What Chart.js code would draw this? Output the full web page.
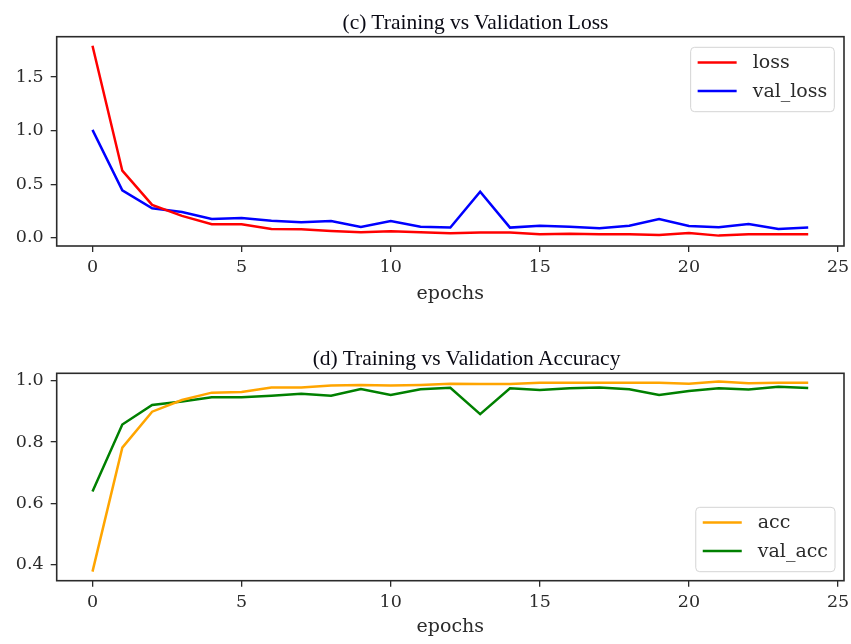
<!DOCTYPE html>
<html><head><meta charset="utf-8">
<script src="https://cdn.jsdelivr.net/npm/chart.js@4.4.0/dist/chart.umd.min.js"></script>
<style>
html,body{margin:0;padding:0;background:#fff;}
#wrap{position:relative;width:851px;height:644px;overflow:hidden;background:#fff;}
.c{position:absolute;left:0;width:851px;height:322px;}
.t{position:absolute;font-family:"Liberation Serif","Times New Roman",serif;font-size:21.5px;color:#0a0a14;white-space:nowrap;line-height:1;}
</style></head><body>
<div id="wrap">
<div class="c" style="top:0"><canvas id="c1" width="851" height="322"></canvas></div>
<div class="c" style="top:322px"><canvas id="c2" width="851" height="322"></canvas></div>
<div class="t" style="left:342.5px;top:12px">(c) Training vs Validation Loss</div>
<div class="t" style="left:312.7px;top:348px">(d) Training vs Validation Accuracy</div>
</div>
<script>
const epochs = [0,1,2,3,4,5,6,7,8,9,10,11,12,13,14,15,16,17,18,19,20,21,22,23,24];
const loss = [1.794,0.626,0.306,0.203,0.125,0.125,0.081,0.078,0.063,0.050,0.060,0.050,0.041,0.047,0.047,0.031,0.037,0.031,0.031,0.025,0.044,0.019,0.031,0.031,0.031];
const valLoss = [1.007,0.443,0.275,0.240,0.175,0.184,0.159,0.144,0.156,0.100,0.156,0.103,0.094,0.430,0.094,0.112,0.103,0.087,0.112,0.175,0.109,0.097,0.128,0.081,0.094];
const acc = [0.378,0.782,0.899,0.937,0.961,0.963,0.978,0.978,0.984,0.986,0.984,0.986,0.990,0.989,0.989,0.993,0.993,0.993,0.993,0.993,0.990,0.997,0.992,0.993,0.993];
const valAcc = [0.639,0.857,0.921,0.932,0.946,0.946,0.951,0.957,0.951,0.973,0.953,0.972,0.977,0.891,0.975,0.970,0.975,0.978,0.972,0.953,0.966,0.975,0.971,0.980,0.976];
const epochTicks = [0,5,10,15,20,25];
const lossTicks = [0.0,0.5,1.0,1.5];
const accTicks = [0.4,0.6,0.8,1.0];

const FONT = '"DejaVu Serif", serif';
const INK = '#2b2b2b';

const framePlugin = {
  id: 'frame',
  afterDraw(chart) {
    const ctx = chart.ctx, a = chart.chartArea;
    ctx.save();
    ctx.strokeStyle = INK; ctx.lineWidth = 1.6;
    ctx.strokeRect(a.left, a.top, a.right - a.left, a.bottom - a.top);
    ctx.restore();
  }
};

const boxLegend = {
  id: 'boxLegend',
  afterDraw(chart, args, opts) {
    const ctx = chart.ctx, a = chart.chartArea;
    const ds = chart.data.datasets;
    ctx.save();
    ctx.font = '19px ' + FONT;
    const tw = Math.max(...ds.map(d => ctx.measureText(d.label).width));
    const w = 7 + 39 + 16 + tw + 7;
    const h = 64.4;
    const x = a.right - opts.right - w;
    const y = opts.loc === 'top' ? a.top + opts.top : a.bottom - opts.bottom - h;
    const r = 4;
    ctx.beginPath();
    ctx.moveTo(x + r, y);
    ctx.lineTo(x + w - r, y); ctx.arcTo(x + w, y, x + w, y + r, r);
    ctx.lineTo(x + w, y + h - r); ctx.arcTo(x + w, y + h, x + w - r, y + h, r);
    ctx.lineTo(x + r, y + h); ctx.arcTo(x, y + h, x, y + h - r, r);
    ctx.lineTo(x, y + r); ctx.arcTo(x, y, x + r, y, r);
    ctx.closePath();
    ctx.fillStyle = 'rgba(255,255,255,0.85)'; ctx.fill();
    ctx.strokeStyle = '#d4d4d4'; ctx.lineWidth = 1; ctx.stroke();
    ds.forEach((d, i) => {
      const cy = y + 15.2 + i * 28.5;
      ctx.strokeStyle = d.borderColor; ctx.lineWidth = 2.5;
      ctx.beginPath(); ctx.moveTo(x + 7, cy); ctx.lineTo(x + 46, cy); ctx.stroke();
      ctx.fillStyle = INK; ctx.textBaseline = 'middle'; ctx.textAlign = 'left';
      ctx.fillText(d.label, x + 62, cy + 1);
    });
    ctx.restore();
  }
};

function pts(ys) { return epochs.map((e, i) => ({x: e, y: ys[i]})); }

function makeChart(id, sets, yMin, yMax, yTicks, padTop, xHeight, titlePad, legendOpts) {
  return new Chart(document.getElementById(id), {
    type: 'line',
    data: {
      datasets: sets.map(s => ({
        label: s.label, data: pts(s.data), borderColor: s.color, backgroundColor: s.color,
        borderWidth: 2.5, pointRadius: 0, tension: 0, fill: false
      }))
    },
    options: {
      responsive: false, animation: false, devicePixelRatio: 1,
      layout: {padding: {top: padTop, right: 7, left: 0, bottom: 0}},
      plugins: {legend: {display: false}, tooltip: {enabled: false}, title: {display: false}, boxLegend: legendOpts},
      scales: {
        x: {
          type: 'linear', min: -1.2, max: 25.2,
          afterBuildTicks: s => { s.ticks = epochTicks.map(v => ({value: v})); },
          afterFit: s => { s.height = xHeight; s.paddingLeft = 0; s.paddingRight = 0; },
          grid: {drawOnChartArea: false, drawTicks: true, tickLength: 6, color: INK, lineWidth: 1.3},
          border: {display: false},
          ticks: {font: {family: FONT, size: 17.5}, color: INK, padding: 5, maxRotation: 0, autoSkip: false,
                  callback: v => String(v)},
          title: {display: true, text: 'epochs', font: {family: FONT, size: 19}, color: INK, padding: {top: 0, bottom: titlePad}}
        },
        y: {
          type: 'linear', min: yMin, max: yMax,
          afterBuildTicks: s => { s.ticks = yTicks.map(v => ({value: v})); },
          afterFit: s => { s.width = 56.7; s.paddingTop = 0; s.paddingBottom = 0; },
          grid: {drawOnChartArea: false, drawTicks: true, tickLength: 6, color: INK, lineWidth: 1.3},
          border: {display: false},
          ticks: {font: {family: FONT, size: 17.5}, color: INK, padding: 7, autoSkip: false,
                  callback: v => Number(v).toFixed(1)}
        }
      }
    },
    plugins: [framePlugin, boxLegend]
  });
}

makeChart('c1', [
  {label: 'loss', data: loss, color: '#ff0000'},
  {label: 'val_loss', data: valLoss, color: '#0000ff'}
], -0.078, 1.878, lossTicks, 36.7, 76, 16.5, {loc: 'top', right: 9.7, top: 10.6});

makeChart('c2', [
  {label: 'acc', data: acc, color: '#ffa500'},
  {label: 'val_acc', data: valAcc, color: '#008000'}
], 0.3485, 1.024, accTicks, 51.3, 63.3, 5.2, {loc: 'bottom', right: 9, bottom: 9});
</script>
</body></html>
